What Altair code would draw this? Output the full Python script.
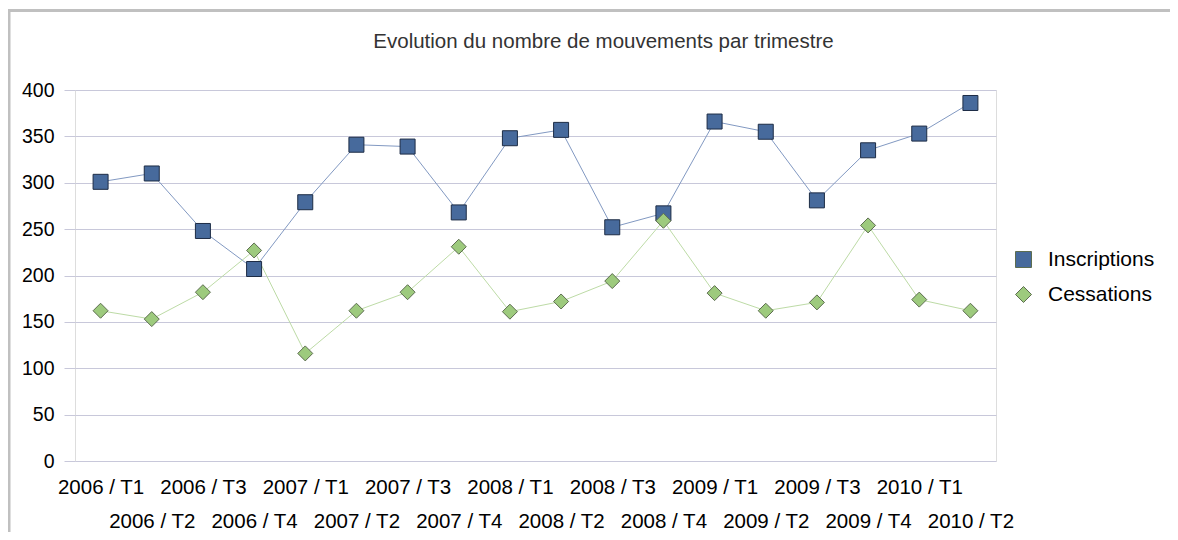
import altair as alt
import pandas as pd

periodes = ["2006 / T1", "2006 / T2", "2006 / T3", "2006 / T4",
            "2007 / T1", "2007 / T2", "2007 / T3", "2007 / T4",
            "2008 / T1", "2008 / T2", "2008 / T3", "2008 / T4",
            "2009 / T1", "2009 / T2", "2009 / T3", "2009 / T4",
            "2010 / T1", "2010 / T2"]
inscriptions = [301, 310, 248, 207, 279, 341, 339, 268, 348, 357,
                252, 267, 366, 355, 281, 335, 353, 386]
cessations = [162, 153, 182, 227, 116, 162, 182, 231, 161, 172,
              194, 259, 181, 162, 171, 254, 174, 162]
series_names = ["Inscriptions", "Cessations"]

df = pd.DataFrame({
    "periode": periodes * 2,
    "serie": ["Inscriptions"] * len(periodes) + ["Cessations"] * len(periodes),
    "valeur": inscriptions + cessations,
})

FONT = "Liberation Sans"

x_enc = alt.X("periode:N", sort=periodes, title=None,
              scale=alt.Scale(type="point", padding=0.5),
              axis=alt.Axis(ticks=False, domain=False, grid=False,
                            labelFontSize=20.5, labelFont=FONT, labelColor="#000000",
                            labelAngle=0, labelOverlap=False, labelFlush=False,
                            labelBound=False, labelLimit=0,
                            labelBaseline="alphabetic", labelPadding=32,
                            labelLineHeight=34,
                            labelExpr="test(/T[24]$/, datum.value) ? ['', datum.value] : [datum.value, '']"))
y_enc = alt.Y("valeur:Q", title=None,
              scale=alt.Scale(domain=[0, 400], nice=False),
              axis=alt.Axis(values=list(range(0, 401, 50)), grid=True,
                            gridColor="#c8c8da", gridWidth=1, domain=False,
                            tickSize=11, tickColor="#c8c8da", labelPadding=10,
                            labelFontSize=19.5, labelFont=FONT, labelColor="#000000"))

base = alt.Chart(df)

line_ins = base.transform_filter("datum.serie == 'Inscriptions'").mark_line(
    color="#8299c2", strokeWidth=1).encode(x=x_enc, y=y_enc)
line_ces = base.transform_filter("datum.serie == 'Cessations'").mark_line(
    color="#bddba6", strokeWidth=1).encode(x=x_enc, y=y_enc)

points = base.mark_point(filled=True, opacity=1, size=225, strokeWidth=1).encode(
    x=x_enc, y=y_enc,
    fill=alt.Fill("serie:N", sort=series_names,
                  scale=alt.Scale(domain=series_names, range=["#476a9c", "#9dca7d"]),
                  legend=alt.Legend(title=None, orient="none", legendX=938, legendY=159,
                                    labelFontSize=21, labelFont=FONT, labelColor="#000000",
                                    symbolSize=256, symbolStrokeColor="#2a3a50",
                                    symbolStrokeWidth=1, labelOffset=14, rowPadding=13,
                                    padding=0)),
    shape=alt.Shape("serie:N", sort=series_names,
                    scale=alt.Scale(domain=series_names, range=["square", "diamond"])),
    stroke=alt.condition("datum.serie == 'Inscriptions'",
                         alt.value("#1d2c45"), alt.value("#5d6d50")),
)

frame_df = pd.DataFrame({"a": [0]})
top_border = alt.Chart(frame_df).mark_rule(color="#c0c0c0", strokeWidth=3).encode(
    x=alt.value(-70), x2=alt.value(1100), y=alt.value(-79.5))
left_border = alt.Chart(frame_df).mark_rule(color="#c0c0c0", strokeWidth=3).encode(
    x=alt.value(-66), y=alt.value(-81), y2=alt.value(460))

chart = alt.layer(top_border, left_border, line_ins, line_ces, points).properties(
    width=921, height=371,
    title=alt.TitleParams("Evolution du nombre de mouvements par trimestre",
                          fontSize=20.5, font=FONT, fontWeight="normal", color="#333333",
                          anchor="middle", frame="group", dx=68, offset=-45),
    autosize=alt.AutoSizeParams(type="none"),
    padding={"left": 67, "top": 82, "right": 174, "bottom": 71},
).configure_view(fill="#eeeef3", stroke=None).configure(background="#ffffff")

chart.save("out.html", embed_options={"renderer": "svg", "actions": False})
